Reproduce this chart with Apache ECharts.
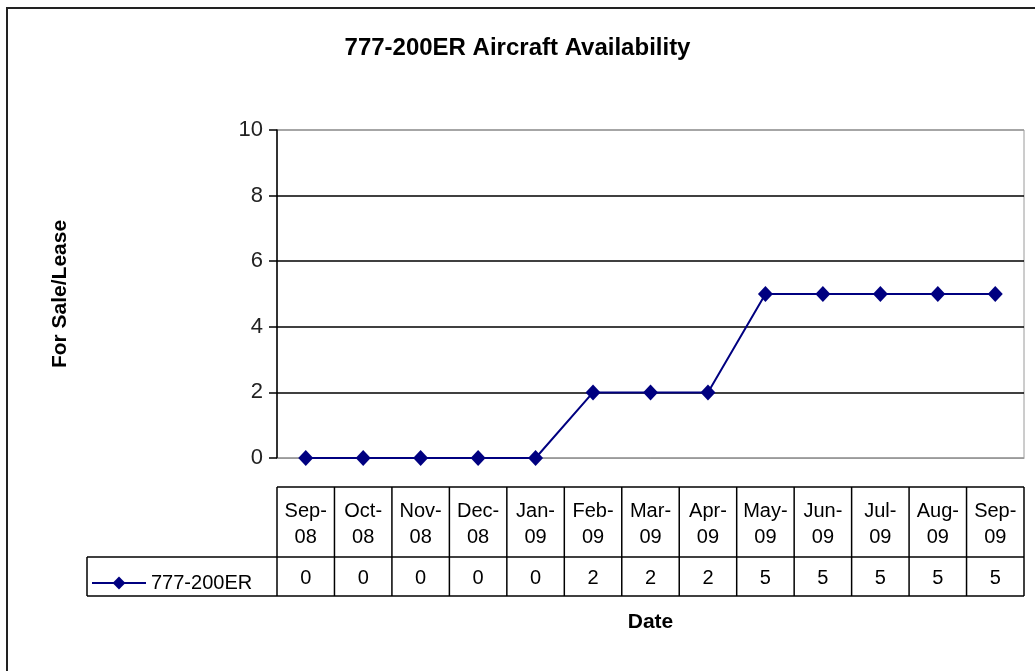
<!DOCTYPE html>
<html>
<head>
<meta charset="utf-8">
<script src="https://cdn.jsdelivr.net/npm/echarts@6/dist/echarts.min.js"></script>
<style>
  html, body { margin: 0; padding: 0; background: #fff; }
  #main { width: 1035px; height: 671px; }
</style>
</head>
<body>
<div id="main"></div>
<script>
var months = ['Sep-08', 'Oct-08', 'Nov-08', 'Dec-08', 'Jan-09', 'Feb-09', 'Mar-09',
  'Apr-09', 'May-09', 'Jun-09', 'Jul-09', 'Aug-09', 'Sep-09'];
var seriesName = '777-200ER';
var availability = [0, 0, 0, 0, 0, 2, 2, 2, 5, 5, 5, 5, 5];
var yTicks = [0, 2, 4, 6, 8, 10];

// table geometry (px)
var headTop = 487, headBottom = 557, rowBottom = 596, legendLeft = 87;
var font = '"Liberation Sans", Arial, sans-serif';

var chart = echarts.init(document.getElementById('main'));

var option = {
  animation: false,
  title: {
    text: '777-200ER Aircraft Availability',
    left: 'center',
    top: 31,
    textStyle: { fontFamily: font, fontSize: 24, fontWeight: 'bold', color: '#000' }
  },
  legend: {
    left: 86,
    top: 568,
    itemWidth: 54,
    itemHeight: 16,
    itemGap: 4,
    textStyle: { fontFamily: font, fontSize: 20, color: '#000' },
    data: [seriesName]
  },
  grid: {
    left: 277, right: 11, top: 130, bottom: 213,
    show: true, borderColor: '#9a9a9a', borderWidth: 1
  },
  xAxis: [{
    type: 'category',
    data: months,
    name: 'Date',
    nameLocation: 'middle',
    nameGap: 154,
    nameTextStyle: { fontFamily: font, fontSize: 21, fontWeight: 'bold', color: '#000' },
    axisLine: { lineStyle: { color: '#9a9a9a' } },
    axisTick: { show: false },
    axisLabel: {
      margin: 40,
      interval: 0,
      fontFamily: font, fontSize: 20, color: '#000', lineHeight: 26,
      formatter: function (v) { var p = v.split('-'); return p[0] + '-\n' + p[1]; }
    }
  }, {
    type: 'category',
    data: months,
    position: 'bottom',
    axisLine: { show: false },
    axisTick: { show: false },
    axisLabel: {
      margin: 110,
      interval: 0,
      fontFamily: font, fontSize: 20, color: '#000',
      formatter: function (v, i) { return String(availability[i]); }
    }
  }],
  yAxis: {
    type: 'value',
    min: 0, max: 10, interval: 2,
    name: 'For Sale/Lease',
    nameLocation: 'middle',
    nameGap: 206,
    nameTextStyle: { fontFamily: font, fontSize: 21, fontWeight: 'bold', color: '#000' },
    axisLine: { show: true, lineStyle: { color: '#000', width: 1.5 } },
    axisTick: { show: true, inside: false, length: 8, lineStyle: { color: '#000', width: 1.5 } },
    axisLabel: {
      margin: 14, fontFamily: font, fontSize: 22, color: '#222',
      formatter: function (v) { return yTicks.indexOf(v) >= 0 ? String(v) : ''; }
    },
    splitLine: {
      show: true,
      lineStyle: { color: ['#9a9a9a', '#000', '#000', '#000', '#000', '#9a9a9a'], width: 1.5 }
    }
  },
  series: [{
    name: seriesName,
    type: 'line',
    data: availability,
    symbol: 'diamond',
    symbolSize: [15, 16],
    lineStyle: { color: '#000080', width: 2 },
    itemStyle: { color: '#000080' }
  }]
};

chart.setOption(option);

// data table borders, from the category axis positions
var c0 = chart.convertToPixel({ xAxisIndex: 0 }, 0);
var c1 = chart.convertToPixel({ xAxisIndex: 0 }, 1);
var w = c1 - c0;
var right = c0 - w / 2 + w * months.length;
var lineStyle = { stroke: '#000', lineWidth: 1.5 };
var els = [];
function hline(x1, x2, y) {
  els.push({ type: 'line', shape: { x1: x1, y1: y, x2: x2, y2: y }, style: lineStyle, silent: true });
}
function vline(x, y1, y2) {
  els.push({ type: 'line', shape: { x1: x, y1: y1, x2: x, y2: y2 }, style: lineStyle, silent: true });
}
hline(c0 - w / 2, right, headTop);
hline(legendLeft, right, headBottom);
hline(legendLeft, right, rowBottom);
for (var i = 0; i <= months.length; i++) {
  vline(c0 - w / 2 + w * i, headTop, rowBottom);
}
vline(legendLeft, headBottom, rowBottom);
// outer chart frame
els.push({
  type: 'rect', shape: { x: 7, y: 8, width: 1100, height: 700 },
  style: { fill: 'none', stroke: '#222', lineWidth: 2 }, silent: true
});
chart.setOption({ graphic: els });
</script>
</body>
</html>
